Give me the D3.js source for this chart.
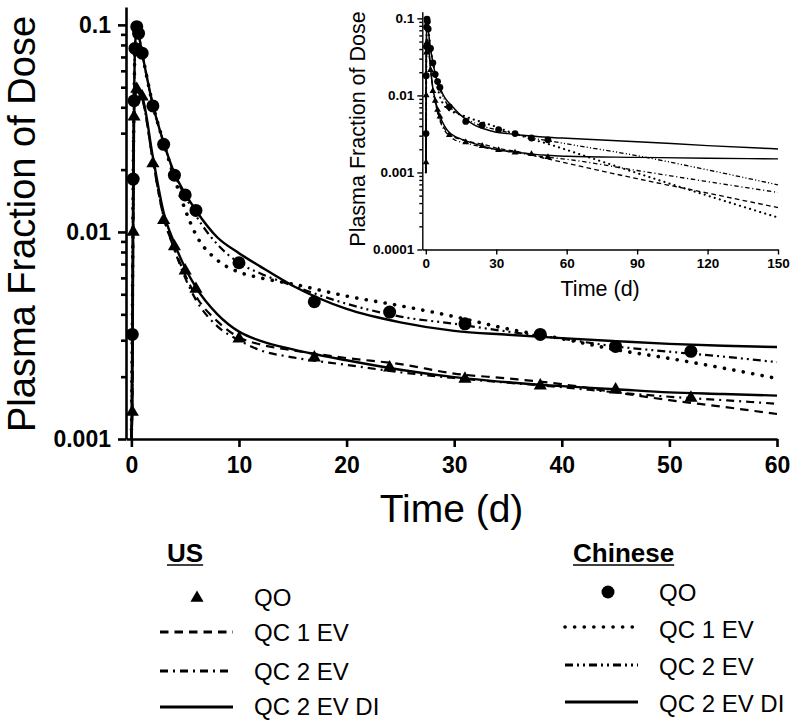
<!DOCTYPE html>
<html><head><meta charset="utf-8">
<script src="https://cdn.jsdelivr.net/npm/d3@7"></script>
<style>
body{margin:0;background:#fff}
svg{display:block}
text{font-family:"Liberation Sans",Arial,sans-serif;fill:#000}
</style>
</head><body>
<svg id="chart" width="794" height="721"></svg>
<script>
// ---------- data ----------
const timeGrid = [0, 0.083, 0.167, 0.25, 0.333, 0.5, 0.667, 1, 2, 3, 4, 5, 6, 8, 10, 12, 15, 20, 25, 30, 35, 40, 45, 50, 55, 60, 90, 120, 150];

const usQC1EV   = [0.001, 0.0014, 0.01, 0.036, 0.045, 0.048, 0.047, 0.044, 0.022, 0.0118, 0.0083, 0.0062, 0.0049, 0.0037, 0.0031, 0.00286, 0.00268, 0.00246, 0.0023, 0.00207, 0.00196, 0.00184, 0.00168, 0.00154, 0.00143, 0.00132, 0.00083, 0.00054, 0.00035];
const usQC2EV   = [0.001, 0.0014, 0.01, 0.036, 0.045, 0.048, 0.047, 0.044, 0.022, 0.0118, 0.0082, 0.006, 0.0047, 0.0035, 0.003, 0.00268, 0.00248, 0.00228, 0.0021, 0.00197, 0.00187, 0.00178, 0.00168, 0.0016, 0.00154, 0.00148, 0.00106, 0.00076, 0.00055];
const usQC2EVDI = [0.001, 0.0014, 0.01, 0.036, 0.045, 0.048, 0.047, 0.045, 0.023, 0.0124, 0.0088, 0.0067, 0.0054, 0.004, 0.0033, 0.00298, 0.00271, 0.0024, 0.00216, 0.00199, 0.00188, 0.0018, 0.00174, 0.00168, 0.00165, 0.00162, 0.00157, 0.00153, 0.0015];

const cnQC1EV   = [0.001, 0.0032, 0.018, 0.043, 0.077, 0.097, 0.09, 0.073, 0.041, 0.027, 0.0182, 0.0128, 0.0097, 0.0073, 0.0064, 0.006, 0.0056, 0.0049, 0.0044, 0.0039, 0.0034, 0.00305, 0.0027, 0.00245, 0.0022, 0.00196, 0.00098, 0.0005, 0.00026];
const cnQC2EV   = [0.001, 0.0032, 0.018, 0.043, 0.077, 0.097, 0.09, 0.073, 0.041, 0.027, 0.019, 0.0149, 0.012, 0.0087, 0.0071, 0.0063, 0.0055, 0.0045, 0.0039, 0.0036, 0.0033, 0.00305, 0.0028, 0.00264, 0.0025, 0.00235, 0.00165, 0.00108, 0.00069];
const cnQC2EVDI = [0.001, 0.0032, 0.018, 0.043, 0.077, 0.097, 0.09, 0.073, 0.041, 0.027, 0.0192, 0.0153, 0.0127, 0.0094, 0.0079, 0.0068, 0.0055, 0.00425, 0.00366, 0.00333, 0.00319, 0.00307, 0.00297, 0.00288, 0.00282, 0.00278, 0.00251, 0.00223, 0.00202];

const usQOTime  = [0.083, 0.167, 0.25, 0.5, 1, 2, 3, 4, 5, 6, 10, 17, 24, 31, 38, 45, 52];
const usQOValue = [0.00135, 0.01, 0.036, 0.049, 0.045, 0.0214, 0.0114, 0.0085, 0.0065, 0.0053, 0.00305, 0.00247, 0.00221, 0.00195, 0.00181, 0.00173, 0.00158];
const cnQOTime  = [0.083, 0.167, 0.25, 0.333, 0.5, 0.667, 1, 2, 3, 4, 5, 6, 10, 17, 24, 31, 38, 45, 52];
const cnQOValue = [0.0032, 0.018, 0.043, 0.077, 0.098, 0.091, 0.073, 0.0406, 0.0265, 0.0188, 0.0151, 0.0127, 0.0071, 0.0046, 0.0041, 0.0036, 0.0032, 0.0028, 0.00265];

const mainXTicks  = [0, 10, 20, 30, 40, 50, 60];
const insetXTicks = [0, 30, 60, 90, 120, 150];
const mainYTicks  = [0.1, 0.01, 0.001];
const insetYTicks = [0.1, 0.01, 0.001, 0.0001];
const mainYLabels  = ["0.1", "0.01", "0.001"];
const insetYLabels = ["0.1", "0.01", "0.001", "0.0001"];
const yTitle = "Plasma Fraction of Dose";
const xTitle = "Time (d)";
const groupTitles = ["US", "Chinese"];
const legendLabels = ["QO", "QC 1 EV", "QC 2 EV", "QC 2 EV DI"];

// ---------- series table ----------
const curves = [
  {name: "US QC 1 EV",     vals: usQC1EV,   dash: "8.5,6",          w: 2.2, cap: "butt"},
  {name: "US QC 2 EV",     vals: usQC2EV,   dash: "8,5,2,5",        w: 2.2, cap: "butt"},
  {name: "US QC 2 EV DI",  vals: usQC2EVDI, dash: null,             w: 2.4, cap: "butt"},
  {name: "CN QC 1 EV",     vals: cnQC1EV,   dash: "0.1,9.5",        w: 3.6, cap: "round"},
  {name: "CN QC 2 EV",     vals: cnQC2EV,   dash: "8,4,2,4,2,4",    w: 2.2, cap: "butt"},
  {name: "CN QC 2 EV DI",  vals: cnQC2EVDI, dash: null,             w: 2.4, cap: "butt"}
].map(c => ({...c, pts: timeGrid.map((t, i) => ({t, v: c.vals[i]}))}));

const usPts = usQOTime.map((t, i) => ({t, v: usQOValue[i]}));
const cnPts = cnQOTime.map((t, i) => ({t, v: cnQOValue[i]}));

function minorTicks(lo, hi) {
  const out = [];
  for (let d = lo; d < hi; d *= 10) for (let k = 2; k <= 9; k++) out.push(+(k * d).toPrecision(3));
  return out;
}

const svg = d3.select("#chart");

function panel(o) {
  const x = d3.scaleLinear().domain(o.xDomain).range(o.xRange);
  const y = d3.scaleLog().domain(o.yDomain).range(o.yRange);
  const g = svg.append("g");
  const clipId = "clip" + o.id;
  svg.append("clipPath").attr("id", clipId).append("rect")
    .attr("x", o.xRange[0]).attr("y", o.yRange[1] - 10)
    .attr("width", o.xRange[1] - o.xRange[0] + 2).attr("height", o.yRange[0] - o.yRange[1] + 10);

  // axes
  const yAx = g.append("g").attr("transform", `translate(${o.xRange[0]},0)`)
    .call(d3.axisLeft(y).tickValues(o.yTicks).tickFormat((d, i) => o.yLabels[i])
      .tickSize(o.tick).tickSizeOuter(0).tickPadding(o.yPad));
  const yMin = g.append("g").attr("transform", `translate(${o.xRange[0]},0)`)
    .call(d3.axisLeft(y).tickValues(minorTicks(o.yDomain[0], 0.1)).tickFormat("").tickSize(o.minorTick).tickSizeOuter(0));
  yMin.select(".domain").remove();
  const xAx = g.append("g").attr("transform", `translate(0,${o.yRange[0]})`)
    .call(d3.axisBottom(x).tickValues(o.xTicks).tickFormat(d3.format("d"))
      .tickSize(o.tick).tickSizeOuter(0).tickPadding(o.xPad));
  [yAx, yMin, xAx].forEach(a => {
    a.attr("font-family", '"Liberation Sans",Arial,sans-serif').attr("font-size", o.tickFont).attr("font-weight", "bold");
    a.selectAll("path,line").attr("stroke", "#000").attr("stroke-width", o.axisW);
    a.selectAll("text").attr("fill", "#000");
  });

  // curves
  const line = d3.line().x(d => x(d.t)).y(d => y(d.v)).curve(d3.curveMonotoneX);
  const cg = g.append("g").attr("clip-path", `url(#${clipId})`);
  curves.forEach(c => {
    cg.append("path").datum(c.pts.filter(p => p.t <= o.xDomain[1]))
      .attr("d", line).attr("fill", "none").attr("stroke", "#000")
      .attr("stroke-width", c.w * o.lineScale)
      .attr("stroke-linecap", c.cap)
      .attr("stroke-dasharray", c.dash ? c.dash.split(",").map(v => +v * o.dashScale).join(",") : null);
  });
  // markers
  cg.selectAll(".cn").data(cnPts).join("circle")
    .attr("cx", d => x(d.t)).attr("cy", d => y(d.v)).attr("r", o.r).attr("fill", "#000");
  cg.selectAll(".us").data(usPts).join("path")
    .attr("transform", d => `translate(${x(d.t)},${y(d.v)})`)
    .attr("d", d3.symbol(d3.symbolTriangle, o.triSize)).attr("fill", "#000");

  // titles
  g.append("text").attr("x", (o.xRange[0] + o.xRange[1]) / 2).attr("y", o.xTitleY)
    .attr("text-anchor", "middle").attr("font-size", o.titleFont).text(xTitle);
  g.append("text").attr("transform", `translate(${o.yTitleX},${o.yTitleY}) rotate(-90)`)
    .attr("text-anchor", "middle").attr("font-size", o.yTitleFont || o.titleFont).text(yTitle);
}

// main chart
panel({
  id: "main", xDomain: [-0.5, 60], xRange: [126, 777], yDomain: [0.001, 0.122], yRange: [439, 7],
  xTicks: mainXTicks, yTicks: mainYTicks, yLabels: mainYLabels,
  tick: 8, minorTick: 5, yPad: 7, xPad: 10, tickFont: 23, axisW: 2.6,
  lineScale: 1, dashScale: 1, r: 6.5, triSize: 75,
  titleFont: 39, yTitleFont: 38, xTitleY: 522, yTitleX: 35, yTitleY: 224
});

// inset
panel({
  id: "inset", xDomain: [-1.5, 150], xRange: [422.3, 778], yDomain: [0.0001, 0.122], yRange: [249.5, 11.7],
  xTicks: insetXTicks, yTicks: insetYTicks, yLabels: insetYLabels,
  tick: 5, minorTick: 3, yPad: 3, xPad: 4, tickFont: 13.5, axisW: 1.4,
  lineScale: 0.6, dashScale: 0.55, r: 3.4, triSize: 20,
  titleFont: 21.5, xTitleY: 296, yTitleX: 365, yTitleY: 129
});

// ---------- legend ----------
const leg = svg.append("g");
function groupLegend(gx, titleBaseline, symX, lineX0, lineX1, textX, rows, marker, styles) {
  const t = leg.append("text").attr("x", gx).attr("y", titleBaseline)
    .attr("font-size", 26).attr("font-weight", "bold").text(marker.title);
  const w = t.node().getComputedTextLength();
  leg.append("line").attr("x1", gx).attr("x2", gx + w).attr("y1", titleBaseline + 3).attr("y2", titleBaseline + 3)
    .attr("stroke", "#000").attr("stroke-width", 1.6);
  legendLabels.forEach((lab, i) => {
    const r = rows[i];
    leg.append("text").attr("x", textX).attr("y", r.base).attr("font-size", 24).text(lab);
    if (i === 0) {
      if (marker.type === "tri")
        leg.append("path").attr("transform", `translate(${symX},${r.sym})`)
          .attr("d", d3.symbol(d3.symbolTriangle, 75)).attr("fill", "#000");
      else
        leg.append("circle").attr("cx", symX).attr("cy", r.sym).attr("r", 6.5).attr("fill", "#000");
    } else {
      const c = styles[i - 1];
      leg.append("line").attr("x1", lineX0).attr("x2", lineX1).attr("y1", r.sym).attr("y2", r.sym)
        .attr("stroke", "#000").attr("stroke-width", c.dash ? (c.cap === "round" ? 3.6 : 2.8) : 3.2)
        .attr("stroke-linecap", c.cap).attr("stroke-dasharray", c.dash);
    }
  });
}
groupLegend(167, 562, 197, 160, 233, 254,
  [{base: 606, sym: 598}, {base: 641, sym: 632}, {base: 680, sym: 671}, {base: 715, sym: 707}],
  {title: groupTitles[0], type: "tri"}, curves.slice(0, 3));
groupLegend(573, 562, 608, 565, 638, 659,
  [{base: 601, sym: 592}, {base: 638, sym: 627}, {base: 675, sym: 665}, {base: 712, sym: 702}],
  {title: groupTitles[1], type: "circle"}, curves.slice(3, 6));
</script>
</body></html>
